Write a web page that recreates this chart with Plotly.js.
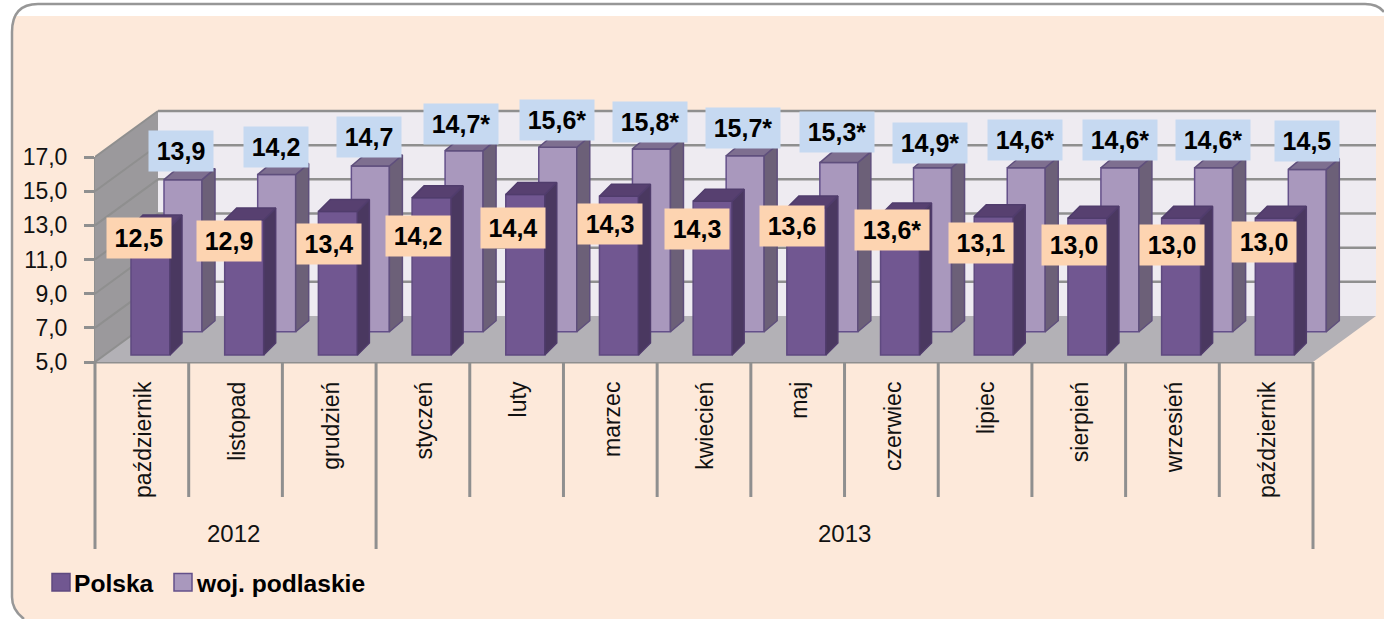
<!DOCTYPE html>
<html><head><meta charset="utf-8">
<script src="https://cdn.plot.ly/plotly-3.0.1.min.js"></script>
<style>html,body{margin:0;padding:0;background:#fff;overflow:hidden}</style>
</head><body><div id="chart" style="width:1384px;height:619px"></div>
<script>
const months = ["październik","listopad","grudzień","styczeń","luty","marzec","kwiecień","maj","czerwiec","lipiec","sierpień","wrzesień","październik"];
const years = ["2012","2013"];
const polskaValues = [12.5,12.9,13.4,14.2,14.4,14.3,14.0,13.6,13.2,13.1,13.0,13.0,13.0];
const podlaskieValues = [13.9,14.2,14.7,15.6,15.8,15.7,15.3,14.9,14.6,14.6,14.6,14.6,14.5];
const polskaLabels = ["12,5","12,9","13,4","14,2","14,4","14,3","14,3","13,6","13,6*","13,1","13,0","13,0","13,0"];
const podlaskieLabels = ["13,9","14,2","14,7","14,7*","15,6*","15,8*","15,7*","15,3*","14,9*","14,6*","14,6*","14,6*","14,5"];
const seriesNames = ["Polska","woj. podlaskie"];
const yTicks = [5,7,9,11,13,15,17];

// layout: label box centres in page pixels
const polskaLabelX = [139,229,329,418,513,610,697,792,892,981,1074,1172,1264];
const polskaLabelY = [238,241,244,236,228,224,229,226,230,243,245,245,242];
const podlaskieLabelX = [181,276,369,461,557,650,743,837,930,1025,1120,1213,1307];
const podlaskieLabelY = [151,147,137,124,120,122,128,132,143,140,140,140,141];

const W=1384,H=619,L=95,Bot=362,Top=100,Right=1378;
const pxCat=(1313-95)/13, pxUnit=17.08;
const plotW=Right-L, plotH=Bot-Top;
const ax=p=>(p-L)/pxCat, ay=p=>5+(Bot-p)/pxUnit;
const pX=p=>(p-L)/plotW, pY=p=>(Bot-p)/plotH;
const dxC=p=>p/pxCat, dyU=p=>p/pxUnit;

const C={grid:'#8f8f8f',wall:'#9b999c',back:'#eeebf1',floor:'#b3b1b6',panel:'#fde9da',border:'#979797',
  polska:'#715791',polskaEdge:'#5f4a80',woj:'#a998bd',wojEdge:'#64508a'};
const backX=dxC(63), backY=dyU(46);
const shapes=[];
function poly(pts,fill){
  shapes.push({type:'path',xref:'x',yref:'y',layer:'below',
    path:'M'+pts.map(p=>p[0]+','+p[1]).join('L')+'Z',fillcolor:fill,line:{width:0}});
}
function seg(x0,y0,x1,y1,color,w){
  shapes.push({type:'line',xref:'x',yref:'y',layer:'below',x0,y0,x1,y1,line:{color,width:w}});
}
function pageLine(x0,y0,x1,y1,color,w){
  shapes.push({type:'line',xref:'paper',yref:'paper',layer:'below',x0:pX(x0),y0:pY(y0),x1:pX(x1),y1:pY(y1),line:{color,width:w}});
}
// panel (paper coordinates)
const pp=(cmds)=>cmds.map(c=>c[0]+c.slice(1).map((v,i)=>i%2==0?pX(v):pY(v)).join(',')).join(' ');
shapes.push({type:'path',xref:'paper',yref:'paper',layer:'below',fillcolor:C.panel,line:{width:0},
  path:pp([['M',13,16],['L',1384,16],['L',1384,619],['L',24,619],['Q',13,612,13,597]])+' Z'});
shapes.push({type:'path',xref:'paper',yref:'paper',layer:'below',fillcolor:'rgba(0,0,0,0)',line:{color:C.border,width:2.5},
  path:pp([['M',24,619],['Q',12,610,12,597],['L',12,32],['Q',12,4,38,4],['L',1365,4],['Q',1378,4,1384,12]])});
// walls and floor
poly([[0,5],[0,17],[backX,17+backY],[backX,5+backY]],C.wall);
poly([[backX,5+backY],[backX,17+backY],[13+backX,17+backY],[13+backX,5+backY]],C.back);
poly([[0,5],[13,5],[13+backX,5+backY],[backX,5+backY]],C.floor);
yTicks.forEach(v=>{
  if(v>5) seg(backX,v+backY,13+backX,v+backY,C.grid,2.5);
  seg(0,v,backX,v+backY,C.grid,2);
});
pageLine(L,Bot,1313,Bot,C.grid,3);
pageLine(L,Bot,L,Bot-12*pxUnit,C.grid,2);
// dividers under the axis
for(let i=0;i<=13;i++){
  const long=(i===0||i===3||i===13);
  pageLine(L+i*pxCat,Bot,L+i*pxCat,long?549:497,C.grid,3);
}
// legend keys
[[52,C.polska,C.polskaEdge],[174,C.woj,C.wojEdge]].forEach(k=>{
  shapes.push({type:'rect',xref:'paper',yref:'paper',x0:pX(k[0]),x1:pX(k[0]+18),y0:pY(573.5),y1:pY(591),
    fillcolor:k[1],line:{color:k[2],width:1.5}});
});

function faces(values,startPx,widthPx,basePx,depthX,depthY){
  const side={x:[],y:[]},top={x:[],y:[]};
  const w=dxC(widthPx), b=ay(basePx), dx=dxC(depthX), dy=dyU(depthY);
  values.forEach((v,i)=>{
    const x0=i+dxC(startPx), x1=x0+w, t=b+(v-5);
    side.x.push(x1,x1+dx,x1+dx,x1,x1,null); side.y.push(b,b+dy,t+dy,t,b,null);
    top.x.push(x0,x0+dx,x1+dx,x1,x0,null);  top.y.push(t,t+dy,t+dy,t,t,null);
  });
  return {side,top,center:values.map((v,i)=>i+dxC(startPx)+w/2),base:b,width:w};
}
const fP=faces(polskaValues,36,39,355,12,12);
const fW=faces(podlaskieValues,69,38,331.7,13,11);
const faceTrace=(d,fill,line)=>({type:'scatter',mode:'lines',x:d.x,y:d.y,fill:'toself',fillcolor:fill,
  line:{color:line,width:1.5},hoverinfo:'skip',showlegend:false});

const data=[
 {type:'bar',name:seriesNames[1],showlegend:false,x:fW.center,y:podlaskieValues.map(v=>v-5),base:fW.base,width:fW.width,
  marker:{color:C.woj,line:{color:C.wojEdge,width:1.5}}},
 {type:'bar',name:seriesNames[0],showlegend:false,x:fP.center,y:polskaValues.map(v=>v-5),base:fP.base,width:fP.width,
  marker:{color:C.polska,line:{color:C.polskaEdge,width:1.5}}},
 faceTrace(fW.side,'#6c6078','#5f4f7c'),
 faceTrace(fW.top,'#7e6f90','#5f4f7c'),
 faceTrace(fP.side,'#4a3860','#503c6c'),
 faceTrace(fP.top,'#574070','#503c6c')
];

const labelFont={family:'Liberation Sans',size:25,color:'#000',weight:700};
const box=(t,cx,cy,bg,w)=>({xref:'x',yref:'y',x:ax(cx),y:ay(cy),xanchor:'center',yanchor:'middle',showarrow:false,
  text:t,font:labelFont,bgcolor:bg,width:t.includes('*')?74:w,height:40,borderpad:0,align:'center',valign:'middle'});
const yearAnn=(t,x)=>({xref:'x',yref:'paper',x,y:pY(533),yanchor:'middle',xanchor:'center',text:t,showarrow:false,
  font:{family:'Liberation Sans',size:24,color:'#111'}});
const legendAnn=(t,px)=>({xref:'paper',yref:'paper',x:pX(px),y:pY(583),xanchor:'left',yanchor:'middle',text:t,showarrow:false,
  font:{family:'Liberation Sans',size:24.6,color:'#000',weight:700}});
const annotations=[
 ...polskaLabels.map((t,i)=>box(t,polskaLabelX[i],polskaLabelY[i],'#fdd4b1',64)),
 ...podlaskieLabels.map((t,i)=>box(t,podlaskieLabelX[i],podlaskieLabelY[i],'#c6d9f1',64)),
 yearAnn(years[0],1.48),yearAnn(years[1],8),
 legendAnn(seriesNames[0],72),legendAnn(seriesNames[1],194)
];

const layout={
 width:W,height:H,margin:{l:L,r:W-Right,t:Top,b:H-Bot,pad:0},
 paper_bgcolor:'#ffffff',plot_bgcolor:'rgba(0,0,0,0)',barmode:'overlay',separators:',.',showlegend:false,
 font:{family:'Liberation Sans',color:'#111'},
 xaxis:{type:'linear',range:[0,plotW/pxCat],showgrid:false,zeroline:false,showline:false,
   tickmode:'array',tickvals:months.map((m,i)=>i+0.52),ticktext:months,tickangle:-90,ticks:'',
   ticklabelstandoff:14,tickfont:{family:'Liberation Sans',size:23,color:'#111'}},
 yaxis:{type:'linear',range:[5,5+plotH/pxUnit],showgrid:false,zeroline:false,showline:false,
   tickmode:'array',tickvals:yTicks,tickformat:'.1f',ticks:'outside',ticklen:10,tickwidth:3,tickcolor:C.grid,
   ticklabelstandoff:12,tickfont:{family:'Liberation Sans',size:23,color:'#111'}},
 shapes,annotations,hovermode:false
};
Plotly.newPlot('chart',data,layout,{displayModeBar:false,staticPlot:true});
</script></body></html>
